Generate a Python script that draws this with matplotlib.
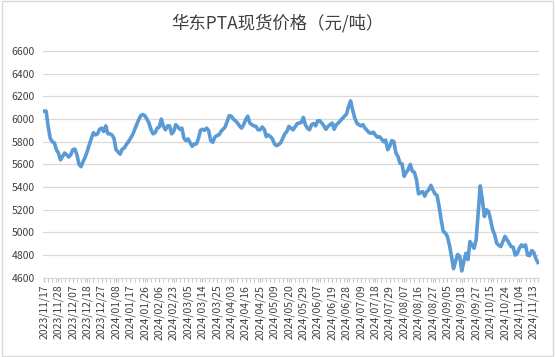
import matplotlib
matplotlib.use("Agg")
import matplotlib.pyplot as plt
from matplotlib.patches import Rectangle

plt.rcParams["font.family"] = ["Noto Sans CJK SC", "DejaVu Sans"]

title = "华东PTA现货价格（元/吨）"

# daily spot price, 2023/11/17 .. 2024/11/15 (trading days)
prices = [
    6070, 6070, 5935, 5830, 5800, 5790, 5730, 5700, 5640, 5670,
    5700, 5685, 5665, 5685, 5730, 5735, 5685, 5600,
    5580, 5625, 5665, 5715, 5775, 5830, 5880, 5860, 5870, 5910,
    5920, 5890, 5940, 5870, 5870, 5860, 5830, 5730, 5710,
    5690, 5735, 5745, 5775, 5800, 5830, 5860, 5905, 5950, 5995,
    6030, 6040, 6030, 6000, 5965, 5905, 5870, 5880, 5920,
    5930, 6000, 5935, 5905, 5940, 5940, 5870, 5890, 5950, 5930,
    5910, 5920, 5830, 5810, 5825, 5790, 5760, 5780, 5780, 5825,
    5900, 5910, 5900, 5920, 5900, 5810, 5795, 5840, 5855, 5860,
    5890, 5910, 5930, 5980, 6030, 6025, 6000, 5985, 5965, 5940,
    5920, 5950, 5995, 6025, 5965, 5950, 5940, 5935, 5905,
    5905, 5930, 5910, 5845, 5860, 5845, 5825, 5780, 5765, 5775,
    5790, 5830, 5870, 5890, 5935, 5920, 5905, 5930, 5960, 5965,
    5970, 6015, 5950, 5920, 5905, 5950, 5960, 5940, 5985,
    5985, 5965, 5940, 5910, 5935, 5950, 5965, 5910, 5950,
    5965, 5985, 6005, 6025, 6045, 6110, 6160, 6080, 6010, 5965,
    5950, 5940, 5950, 5920, 5900, 5880, 5875, 5885, 5860,
    5840, 5845, 5825, 5800, 5815, 5730, 5760, 5810, 5800,
    5700, 5670, 5610, 5605, 5495, 5530, 5555, 5600, 5540, 5530,
    5465, 5340, 5350, 5360, 5320, 5360, 5375, 5415, 5375, 5340,
    5325, 5230, 5110, 5010, 4995, 4965, 4890, 4790, 4680, 4745,
    4805, 4790, 4660, 4745, 4815, 4760, 4920, 4890, 4860,
    4935, 5170, 5410, 5290, 5140, 5200, 5185, 5110, 5025, 4980,
    4905, 4885, 4875, 4920, 4965, 4935, 4905, 4875, 4870, 4800,
    4815, 4860, 4890, 4875, 4890, 4800, 4795, 4840,
    4825, 4770, 4735,
]

tick_labels = [
    "2023/11/17", "2023/11/28", "2023/12/07", "2023/12/18", "2023/12/27",
    "2024/01/08", "2024/01/17", "2024/01/26", "2024/02/06", "2024/02/23",
    "2024/03/05", "2024/03/14", "2024/03/25", "2024/04/03", "2024/04/16",
    "2024/04/25", "2024/05/09", "2024/05/20", "2024/05/29", "2024/06/07",
    "2024/06/19", "2024/06/28", "2024/07/09", "2024/07/18", "2024/07/29",
    "2024/08/07", "2024/08/16", "2024/08/27", "2024/09/05", "2024/09/18",
    "2024/09/27", "2024/10/15", "2024/10/24", "2024/11/04", "2024/11/13",
]
label_step = 7

n = len(prices)
x = list(range(n))

fig = plt.figure(figsize=(5.55, 3.57), dpi=100)
ax = fig.add_axes([0.0775, 0.222, 0.8935, 0.635])

ax.plot(x, prices, color="#5B9BD5", linewidth=2.6, solid_joinstyle="round")

ax.set_xlim(-0.5, n - 0.5)
ax.set_ylim(4600, 6600)
ax.set_yticks(range(4600, 6601, 200))
ax.grid(axis="y", color="#D9D9D9", linewidth=0.9)
ax.set_axisbelow(True)

ax.set_xticks([i * label_step for i in range(len(tick_labels))])
ax.set_xticklabels(tick_labels, rotation=90, fontsize=7.5, color="#404040")
ax.set_xticks(range(0, n, 2), minor=True)
ax.tick_params(axis="x", which="both", length=3, color="#BFBFBF", pad=2)
ax.tick_params(axis="y", length=0, labelsize=7.5, labelcolor="#404040", pad=6)

for side in ("left", "right", "top"):
    ax.spines[side].set_visible(False)
ax.spines["bottom"].set_color("#D9D9D9")

fig.text(0.5, 0.935, title, ha="center", va="center", fontsize=12.5, color="#404040")

fig.patches.append(Rectangle((0.003, 0.004), 0.994, 0.992, transform=fig.transFigure,
                             fill=False, edgecolor="#D9D9D9", linewidth=1))

fig.savefig("out.png", dpi=100)
